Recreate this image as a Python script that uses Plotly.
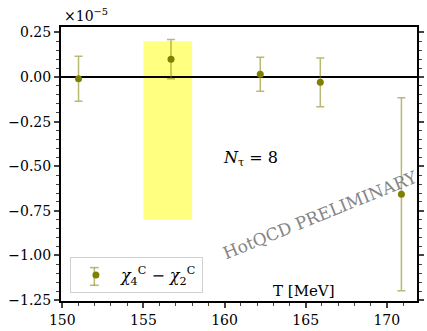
import plotly.graph_objects as go

T = [151.0, 156.7, 162.2, 165.9, 170.9]
val = [-0.01, 0.10, 0.015, -0.03, -0.657]
err = [0.126, 0.11, 0.095, 0.137, 0.54]
band_x = [155.0, 158.0]
band_y = [-0.80, 0.20]

font = "DejaVu Serif"
olive = "#808000"
errcol = "rgba(128,128,0,0.55)"

fig = go.Figure()
fig.add_shape(type="rect", x0=band_x[0], x1=band_x[1], y0=band_y[0], y1=band_y[1],
              fillcolor="#ffff80", line=dict(width=0), layer="below")
fig.add_trace(go.Scatter(
    x=T, y=val, mode="markers",
    marker=dict(color=olive, size=7),
    error_y=dict(type="data", array=err, visible=True, color=errcol,
                 thickness=1.5, width=4),
    name="<i>χ</i><sub>4</sub><sup>C</sup> − <i>χ</i><sub>2</sub><sup>C</sup>",
))

fig.update_layout(
    width=427, height=331,
    margin=dict(l=61, r=3, t=27, b=25),
    plot_bgcolor="white", paper_bgcolor="white",
    font=dict(family=font, size=14, color="black"),
    showlegend=True,
    legend=dict(x=0.025, y=0.029, xanchor="left", yanchor="bottom",
                bordercolor="#d0d0d0", borderwidth=1, bgcolor="rgba(255,255,255,0)",
                itemwidth=40,
                font=dict(size=16, family=font)),
    xaxis=dict(range=[149.92, 171.86], tick0=150, dtick=5, ticks="outside",
               ticklen=5, tickwidth=1.5, showline=True, linecolor="black", linewidth=2,
               mirror=True, showgrid=False, zeroline=False,
               minor=dict(ticks="outside", dtick=1, ticklen=3, tickwidth=1.2),
               tickfont=dict(size=14)),
    yaxis=dict(range=[-1.255, 0.28], tick0=0, dtick=0.25, tickformat=".2f", ticks="outside",
               ticklen=5, tickwidth=1.5, showline=True, linecolor="black", linewidth=2,
               mirror="ticks", showgrid=False, zeroline=True, zerolinecolor="black",
               zerolinewidth=2,
               minor=dict(ticks="outside", dtick=0.05, ticklen=3, tickwidth=1.2),
               tickfont=dict(size=14)),
)

W, H = 363, 279
def px(x, y):
    return (x - 61) / W, (306 - y) / H

# error-bar glyph for the legend symbol
lx, _ = px(95, 0)
_, ly0 = px(0, 290)
_, ly1 = px(0, 272)
cw = 4.5 / W
seg = dict(type="line", xref="paper", yref="paper", line=dict(color=errcol, width=1.5),
           layer="above")
fig.add_shape(x0=lx, x1=lx, y0=ly0, y1=ly1, **seg)
fig.add_shape(x0=lx - cw, x1=lx + cw, y0=ly0, y1=ly0, **seg)
fig.add_shape(x0=lx - cw, x1=lx + cw, y0=ly1, y1=ly1, **seg)

ann = dict(xref="paper", yref="paper", showarrow=False, xanchor="center", yanchor="middle")
x0, y0 = px(86, 15)
fig.add_annotation(text="×10<sup>−5</sup>", x=x0, y=y0, font=dict(size=14), **ann)
x0, y0 = px(254, 161)
fig.add_annotation(text="<i>N</i><sub>τ</sub> = 8", x=x0, y=y0, font=dict(size=16), **ann)
x0, y0 = px(325, 218)
fig.add_annotation(text="HotQCD PRELIMINARY", x=x0, y=y0, textangle=-22,
                   font=dict(size=17, color="#858585"), **ann)
x0, y0 = px(309, 296)
fig.add_annotation(text="T [MeV]", x=x0, y=y0, font=dict(size=15), **ann)

fig.write_html("out.html", config={"displayModeBar": False})
with open("out.html", encoding="utf-8") as f:
    html = f.read()
html = html.replace("<body>", '<body style="margin:0;padding:0;overflow:hidden">', 1)
with open("out.html", "w", encoding="utf-8") as f:
    f.write(html)
